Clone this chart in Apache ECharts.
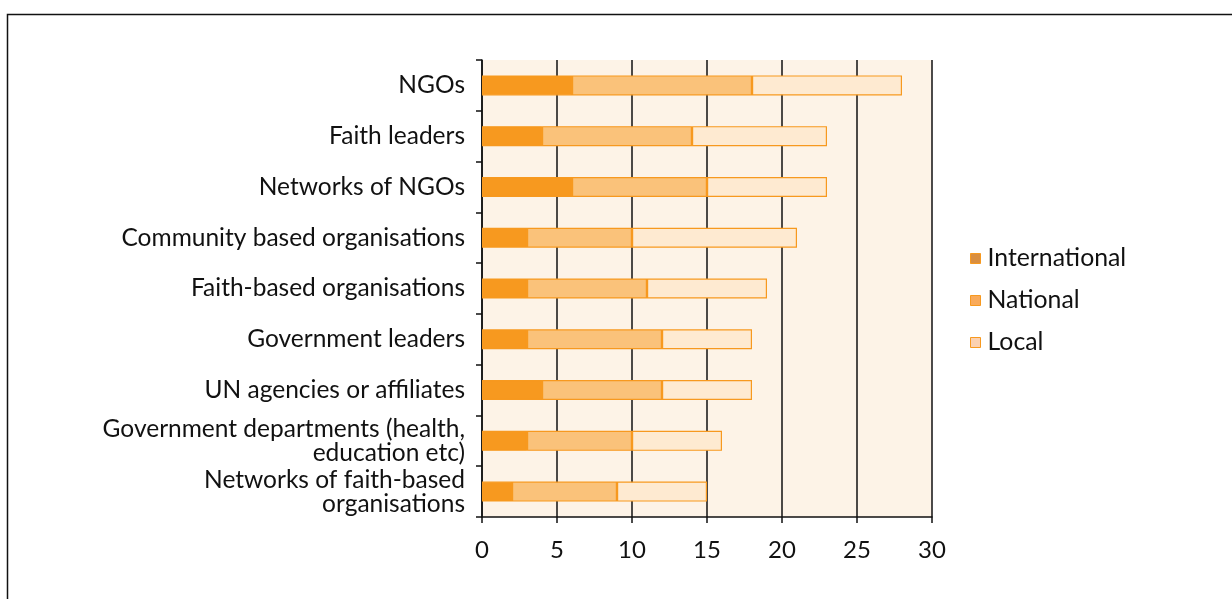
<!DOCTYPE html>
<html>
<head>
<meta charset="utf-8">
<title>Organisations</title>
<script src="https://cdn.jsdelivr.net/npm/echarts@6/dist/echarts.min.js"></script>
<style>
  html, body { margin: 0; padding: 0; background: #fff; }
  #chart { width: 1232px; height: 599px; }
</style>
</head>
<body>
<div id="chart"></div>
<script>
// categories, bottom to top (ECharts category y-axis starts at the bottom)
const categories = [
  'Networks of faith-based\norganisations',
  'Government departments (health,\neducation etc)',
  'UN agencies or affiliates',
  'Government leaders',
  'Faith-based organisations',
  'Community based organisations',
  'Networks of NGOs',
  'Faith leaders',
  'NGOs'
]
const international = [2, 3, 4, 3, 3, 3, 6, 4, 6]
const national = [7, 7, 8, 9, 8, 7, 9, 10, 12]
const local = [6, 6, 6, 6, 8, 11, 8, 9, 10]

const colors = {
  intl: '#f7991f',
  nat: '#fac27a',
  loc: '#feead1',
  border: '#f7991f',
  plotBg: '#fdf3e7',
  text: '#111'
}

const font = 'Lato, sans-serif'

const chart = echarts.init(document.getElementById('chart'))

const barSeries = (name, data, color) => ({
  name,
  type: 'bar',
  stack: 'total',
  barWidth: 20,
  data,
  itemStyle: { color, borderColor: colors.border, borderWidth: 1.2 }
})

chart.setOption({
  backgroundColor: '#fff',
  animation: false,
  graphic: [
    {
      type: 'rect',
      shape: { x: 7.5, y: 14.5, width: 1300, height: 700 },
      style: { fill: 'none', stroke: '#111', lineWidth: 1.5 },
      z: 100
    }
  ],
  grid: {
    left: 482, right: 300, top: 60, bottom: 82,
    show: true,
    backgroundColor: colors.plotBg,
    borderWidth: 0
  },
  legend: {
    orient: 'vertical',
    left: 965,
    top: 241,
    itemWidth: 10,
    itemHeight: 10,
    itemGap: 17,
    textStyle: { fontFamily: font, fontSize: 24.8, color: colors.text, padding: [0, 0, 0, 2] },
    data: [
      { name: 'International', icon: 'rect', itemStyle: { color: '#d98e40', borderColor: colors.border, borderWidth: 1 } },
      { name: 'National', icon: 'rect', itemStyle: { color: '#f9aa5a', borderColor: colors.border, borderWidth: 1 } },
      { name: 'Local', icon: 'rect', itemStyle: { color: '#fbd1b1', borderColor: colors.border, borderWidth: 1 } }
    ]
  },
  xAxis: {
    type: 'value',
    min: 0,
    max: 30,
    interval: 5,
    axisLine: { show: true, lineStyle: { color: '#111', width: 1.5 } },
    axisTick: { show: true, length: 6, lineStyle: { color: '#111', width: 1.5 } },
    axisLabel: { fontFamily: font, fontSize: 24, color: colors.text, margin: 21 },
    splitLine: { show: true, lineStyle: { color: '#111', width: 1.5 } }
  },
  yAxis: {
    type: 'category',
    data: categories,
    axisLine: { show: true, lineStyle: { color: '#111', width: 1.5 } },
    axisTick: { show: true, length: 6, lineStyle: { color: '#111', width: 1.5 } },
    axisLabel: {
      fontFamily: font, fontSize: 24.5, color: colors.text,
      margin: 17, lineHeight: 24, align: 'right'
    },
    splitLine: { show: false }
  },
  series: [
    barSeries('International', international, colors.intl),
    barSeries('National', national, colors.nat),
    barSeries('Local', local, colors.loc)
  ]
})
</script>
</body>
</html>
